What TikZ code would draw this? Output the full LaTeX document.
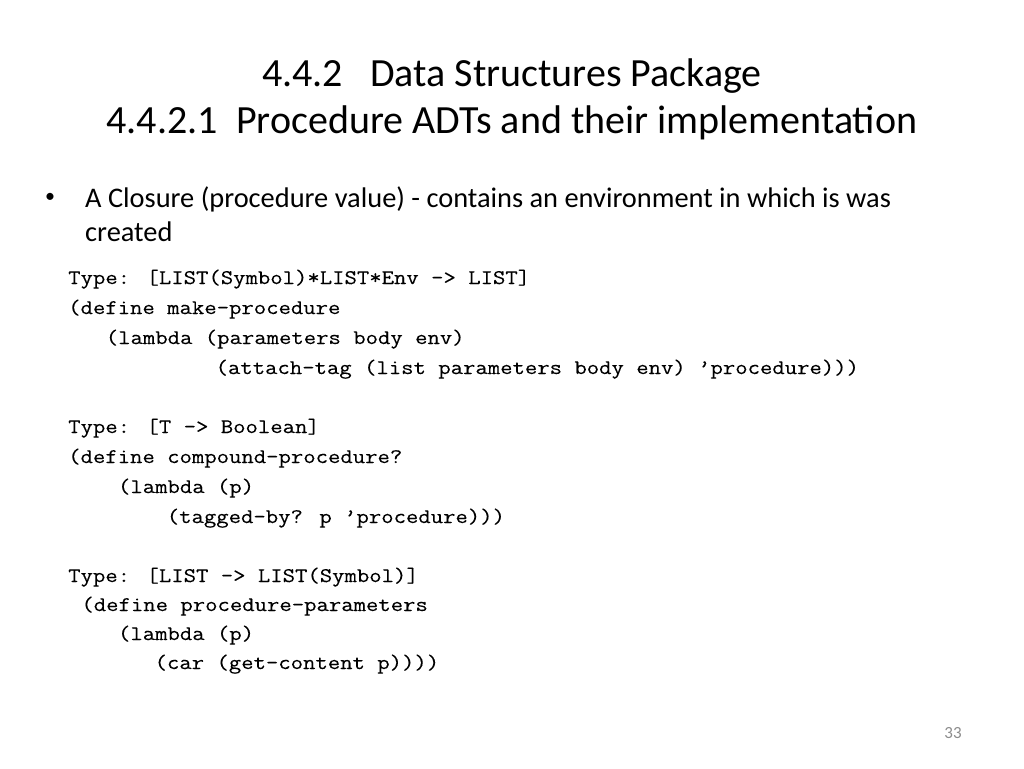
\documentclass[tikz,border=0pt]{standalone}
\usepackage{fontspec}
\setmainfont{Carlito}
\newfontfamily\codefont[FakeBold=0.15]{Latin Modern Mono}
\begin{document}
\begin{tikzpicture}[x=1pt,y=-1pt,
  title/.style={font=\fontsize{40}{48}\selectfont, anchor=base, inner sep=0pt},
  body/.style={font=\fontsize{28.4}{34}\selectfont, anchor=base west, inner sep=0pt},
  bulletmark/.style={font=\fontsize{20}{24}\selectfont, anchor=center, inner sep=0pt},
  code/.style={font=\codefont\fontsize{20.8}{30}\selectfont, anchor=base west, inner sep=0pt, xscale=1.155},
  pagenum/.style={font=\fontsize{17}{20}\selectfont, anchor=base, inner sep=0pt, text=gray!90}]
\useasboundingbox[fill=white] (0,0) rectangle (1024,768);
\def\cw{12.2}
% title
\node[title] (t1) at (512,86) {4.4.2\ \ \ Data Structures Package};
\node[title] (t2) at (512,133) {4.4.2.1\ \ Procedure ADTs and their implementation};
% bullet
\node[bulletmark] (bul) at (50,198) {•};
\node[body] (b1) at (85,207) {A Closure (procedure value) - contains an environment in which is was};
\node[body] (b2) at (85,241) {created};
% code block 1
\node[code] (c11) at (68,284) {Type: [LIST(Symbol)*LIST*Env -> LIST]};
\node[code] (c12) at (68,314) {(define make-procedure};
\node[code] (c13) at (69+3*\cw,344) {(lambda (parameters body env)};
\node[code] (c14) at (69+12*\cw,374) {(attach-tag (list parameters body env) ’procedure)))};
% code block 2
\node[code] (c21) at (68,433) {Type: [T -> Boolean]};
\node[code] (c22) at (68,463) {(define compound-procedure?};
\node[code] (c23) at (69+4*\cw,493) {(lambda (p)};
\node[code] (c24) at (69+8*\cw,523) {(tagged-by? p ’procedure)))};
% code block 3
\node[code] (c31) at (68,582) {Type: [LIST -> LIST(Symbol)]};
\node[code] (c32) at (69+1*\cw,611) {(define procedure-parameters};
\node[code] (c33) at (69+4*\cw,640) {(lambda (p)};
\node[code] (c34) at (69+7*\cw,669) {(car (get-content p))))};
% page number
\node[pagenum] (pn) at (953,738) {33};
\end{tikzpicture}
\end{document}
